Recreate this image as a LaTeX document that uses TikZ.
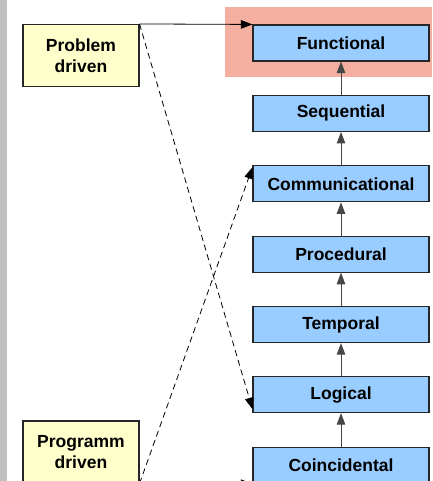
\documentclass[tikz,border=0pt]{standalone}
\usepackage{fontspec}
\setmainfont{Liberation Sans}
\usetikzlibrary{arrows.meta}
\definecolor{boxblue}{RGB}{153,204,255}
\definecolor{boxyellow}{RGB}{255,255,204}
\definecolor{hilite}{RGB}{245,175,160}
\definecolor{barGray}{RGB}{192,192,192}
\definecolor{lineGray}{RGB}{70,70,70}
\tikzset{
  level/.style={draw=black!85, line width=1.1pt, fill=boxblue, minimum width=176pt, minimum height=36pt, inner sep=0pt,
    font=\fontsize{17.5}{21}\selectfont\bfseries},
  driver/.style={draw=black!85, line width=1.1pt, fill=boxyellow, minimum width=116pt, minimum height=62pt, inner sep=0pt,
    align=center, font=\fontsize{17.5}{21}\selectfont\bfseries},
  tip/.style={-{Triangle[length=11.5pt,width=8.5pt]}},
  up/.style={tip, draw=lineGray, line width=0.9pt},
  link/.style={tip, draw=black, line width=0.8pt},
  dlink/.style={tip, draw=black, line width=0.8pt, dash pattern=on 6pt off 4pt},
}
\begin{document}
\begin{tikzpicture}[x=1pt,y=-1pt]
\useasboundingbox (0,0) rectangle (432,481);
\clip (0,0) rectangle (432,481);
\fill[white] (0,0) rectangle (432,481);
\fill[barGray] (0,0) rectangle (7,481);
\fill[hilite] (225,7.5) rectangle (432,77.5);

\node[level] (func)  at (341,43)    {Functional};
\node[level] (seq)   at (341,113.4) {Sequential};
\node[level] (comm)  at (341,183.8) {Communicational};
\node[level] (proc)  at (341,254.2) {Procedural};
\node[level] (temp)  at (341,324.6) {Temporal};
\node[level] (logic) at (341,394.6) {Logical};
\node[level] (coin)  at (341,465.2) {Coincidental};

\node[driver] (prob) at (81,55.5) {Problem\\driven};
\node[driver] (prog) at (81,452)  {Programm\\driven};

\draw[up] (seq.north) -- (func.south);
\draw[up] (comm.north) -- (seq.south);
\draw[up] (proc.north) -- (comm.south);
\draw[up] (temp.north) -- (proc.south);
\draw[up] (logic.north) -- (temp.south);
\draw[up] (coin.north) -- (logic.south);

\draw[link] (prob.north east) -- (func.north west);
\draw[dlink] (prob.north east) -- ([yshift=4pt]logic.south west);
\draw[dlink] (prog.south east) -- ([yshift=-2pt]comm.north west);
\draw[link] (prog.south east) -- (coin.south west);
\end{tikzpicture}
\end{document}
